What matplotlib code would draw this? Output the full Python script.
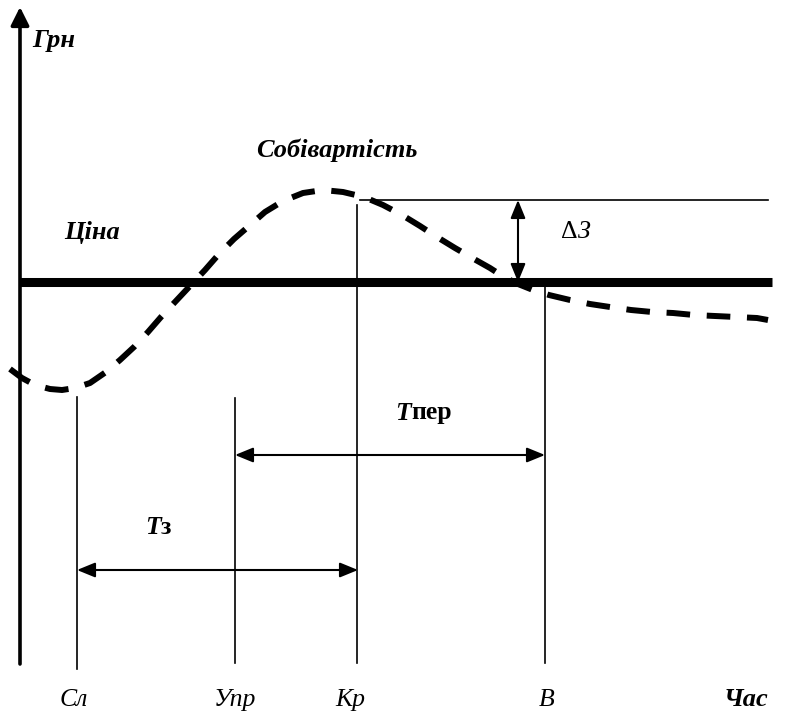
import matplotlib.pyplot as plt

plt.rcParams['font.family'] = ['Liberation Serif', 'DejaVu Serif']
plt.rcParams['lines.scale_dashes'] = False

# diagram coordinates (x to the right, y downward, as on the sheet)
price_level = 282
time_names = ['Сл', 'Упр', 'Кр', 'В']
time_x = [77, 235, 357, 545]
time_top = [397, 398, 205, 287]
time_bottom = [669, 663, 663, 663]

# cost curve (Собівартість)
cost_x = [10, 22, 35, 50, 62, 75, 90, 106, 120, 134, 148, 161, 175, 190, 205,
          219, 234, 249, 265, 283, 303, 323, 343, 364, 383, 402, 420, 437, 455,
          474, 490, 504, 518, 533, 549, 570, 590, 610, 631, 652, 673, 694, 715,
          736, 757, 768]
cost_y = [369, 378, 385, 389, 390, 388, 383, 372, 360, 347, 332, 317, 302, 286,
          270, 254, 239, 226, 212, 201, 193, 190, 192, 197, 205, 215, 226, 237,
          248, 259, 268, 277, 284, 290, 295, 300, 304, 307, 310, 312, 313, 315,
          316, 317, 318, 320]

peak_level = 200
gap_x = 518
t_per = (235, 545, 455)
t_z = (77, 358, 570)

fig = plt.figure(figsize=(8.03, 7.13), dpi=100)
ax = fig.add_axes([0, 0, 1, 1])
ax.set_xlim(0, 803)
ax.set_ylim(713, 0)
ax.axis('off')

# axes with arrows
ax.annotate('', xy=(20, 7), xytext=(20, 664),
            arrowprops=dict(arrowstyle='-|>,head_length=1.1,head_width=0.55',
                            lw=2.6, color='k', shrinkA=0, shrinkB=0))
ax.annotate('', xy=(804, 663), xytext=(18, 663),
            arrowprops=dict(arrowstyle='-|>,head_length=1.1,head_width=0.55',
                            lw=2.6, color='k', shrinkA=0, shrinkB=0))

# price line
ax.plot([20, 772], [price_level, price_level], color='k', lw=6.5,
        solid_capstyle='butt')

# cost curve
ax.plot(cost_x, cost_y, color='k', lw=4.3, dashes=(17, 12),
        dash_capstyle='butt')

# vertical time markers
for x, t, b in zip(time_x, time_top, time_bottom):
    ax.plot([x, x], [t, b], color='k', lw=1.2)

# thin line at peak level
ax.plot([360, 768], [peak_level, peak_level], color='k', lw=1.2)

dbl = dict(arrowstyle='<|-|>,head_length=1.1,head_width=0.45', lw=1.5,
           color='k', shrinkA=0, shrinkB=0)
ax.annotate('', xy=(gap_x, peak_level), xytext=(gap_x, price_level), arrowprops=dbl)
ax.annotate('', xy=(t_per[0], t_per[2]), xytext=(t_per[1], t_per[2]), arrowprops=dbl)
ax.annotate('', xy=(t_z[0], t_z[2]), xytext=(t_z[1], t_z[2]), arrowprops=dbl)

fs = 18.5
bi = dict(fontsize=19, fontweight='bold', fontstyle='italic')
ax.text(32, 40, 'Грн', ha='left', va='center', **bi)
ax.text(337, 150, 'Собівартість', ha='center', va='center', **bi)
ax.text(92, 232, 'Ціна', ha='center', va='center', **bi)

ax.text(411, 413, 'T', ha='right', va='center', fontsize=fs,
        fontweight='bold', fontstyle='italic')
ax.text(411, 413, 'пер', ha='left', va='center', fontsize=fs, fontweight='bold')
ax.text(161, 527, 'T', ha='right', va='center', fontsize=fs,
        fontweight='bold', fontstyle='italic')
ax.text(161, 527, 'з', ha='left', va='center', fontsize=fs, fontweight='bold')

ax.text(578, 232, 'Δ', ha='right', va='center', fontsize=fs)
ax.text(578, 232, 'З', ha='left', va='center', fontsize=fs, fontstyle='italic')

label_x = [74, 235, 350, 547]
for name, x in zip(time_names, label_x):
    ax.text(x, 706, name, ha='center', va='baseline', fontsize=fs,
            fontstyle='italic')
ax.text(746, 706, 'Час', ha='center', va='baseline', **bi)

fig.savefig('out.png', dpi=100)
